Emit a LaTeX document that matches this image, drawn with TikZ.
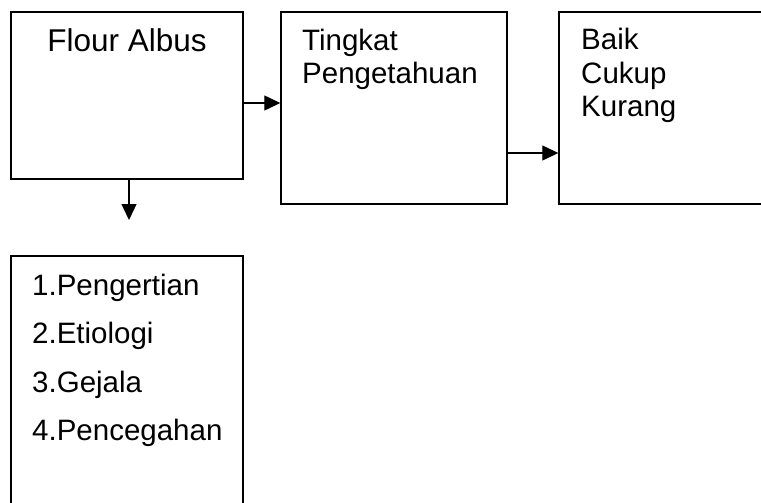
\documentclass[tikz,border=0pt]{standalone}
\usepackage{fontspec}
\setmainfont{Liberation Sans}
\usetikzlibrary{arrows.meta}
\begin{document}
\begin{tikzpicture}[x=1pt,y=-1pt,
  box/.style={draw=black,line width=1.4pt,rectangle,inner sep=0pt},
  txt/.style={inner sep=0pt,anchor=base west,font=\fontsize{29.5}{33}\selectfont},
  arr/.style={line width=1.3pt,-{Triangle[length=16pt,width=15pt]}}]
\clip (0,0) rectangle (761,503);
\fill[white] (0,0) rectangle (761,503);
\node[box,minimum width=232pt,minimum height=167pt] (b1) at (127,95.5) {};
\node[box,minimum width=226pt,minimum height=192pt] (b2) at (394,108) {};
\node[box,minimum width=240pt,minimum height=192pt] (b3) at (679,108) {};
\node[box,minimum width=232pt,minimum height=290pt] (b4) at (127,401) {};
\node[inner sep=0pt,anchor=base,font=\fontsize{31.5}{35}\selectfont] (t1) at (127,52) {Flour Albus};
\node[txt] (t2a) at (302,51) {Tingkat};
\node[txt] (t2b) at (302,84) {Pengetahuan};
\node[txt] (t3a) at (581,50) {Baik};
\node[txt] (t3b) at (581,83.5) {Cukup};
\node[txt] (t3c) at (581,117) {Kurang};
\node[txt] (l1) at (32,295) {1.Pengertian};
\node[txt] (l2) at (32,343) {2.Etiologi};
\node[txt] (l3) at (32,392) {3.Gejala};
\node[txt] (l4) at (32,440) {4.Pencegahan};
\coordinate (d) at (129,220);
\draw[arr] (b1.east |- 0,103) -- (b2.west |- 0,103);
\draw[arr] (b2.east |- 0,153) -- (b3.west |- 0,153);
\draw[arr] (d |- b1.south) -- (d);
\end{tikzpicture}
\end{document}
